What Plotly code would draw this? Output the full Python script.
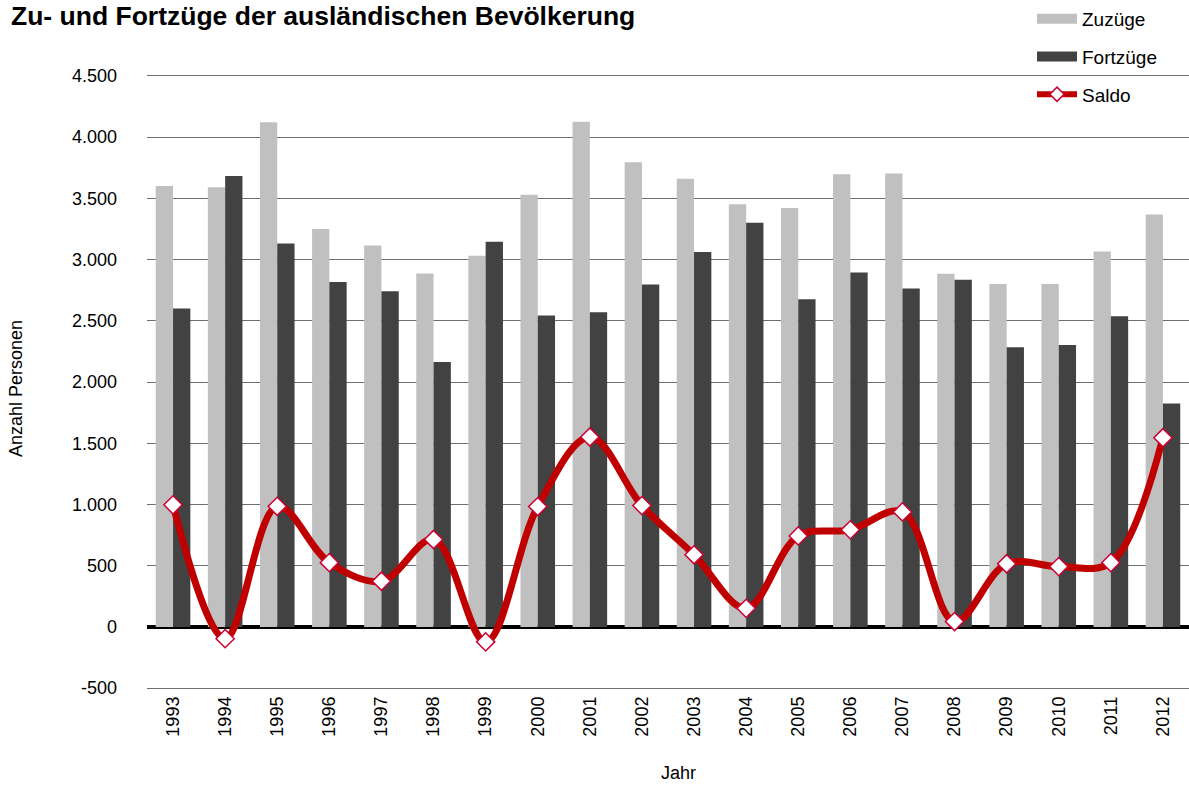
import plotly.graph_objects as go

years = [str(y) for y in range(1993, 2013)]
zuzuege = [3600, 3590, 4120, 3250, 3115, 2885, 3030, 3530, 4125, 3795, 3660, 3452, 3420, 3697, 3703, 2883, 2800, 2800, 3065, 3368]
fortzuege = [2600, 3682, 3131, 2816, 2741, 2163, 3146, 2542, 2570, 2796, 3061, 3300, 2676, 2895, 2764, 2834, 2283, 2303, 2536, 1825]
saldo = [997, -96, 985, 525, 373, 714, -122, 983, 1551, 991, 589, 152, 743, 793, 939, 44, 516, 493, 525, 1545]
yticks = [-500, 0, 500, 1000, 1500, 2000, 2500, 3000, 3500, 4000, 4500]
yticklabels = ["-500", "0", "500", "1.000", "1.500", "2.000", "2.500", "3.000", "3.500", "4.000", "4.500"]

FONT = "Liberation Sans, Arial, sans-serif"
C_ZU = "#C0C0C0"
C_FO = "#424242"
C_SA = "#C00000"

W, H = 1189, 785
L, R, T, B = 147, 0, 74, 95
PW, PH = W - L - R, H - T - B

fig = go.Figure()
fig.add_bar(x=years, y=zuzuege, name="Zuzüge", marker=dict(color=C_ZU, line_width=0), showlegend=False)
fig.add_bar(x=years, y=fortzuege, name="Fortzüge", marker=dict(color=C_FO, line_width=0), showlegend=False)
fig.add_scatter(x=years, y=saldo, name="Saldo", mode="lines+markers",
                line=dict(color=C_SA, width=7, shape="spline", smoothing=1.0),
                marker=dict(symbol="diamond", size=14, color="white", line=dict(color="#CC0033", width=1.5)),
                showlegend=False)
# legend entries
fig.add_scatter(x=[None], y=[None], name="Zuzüge", mode="lines", line=dict(color=C_ZU, width=12), legendgroup="a")
fig.add_scatter(x=[None], y=[None], name="Fortzüge", mode="lines", line=dict(color=C_FO, width=12), legendgroup="b")
fig.add_scatter(x=[None], y=[None], name="Saldo", mode="lines+markers",
                line=dict(color=C_SA, width=6),
                marker=dict(symbol="diamond", size=11, color="white", line=dict(color="#CC0033", width=1.5)),
                legendgroup="c")

fig.update_layout(
    width=W, height=H,
    paper_bgcolor="white", plot_bgcolor="white",
    font=dict(family=FONT, size=18, color="black"),
    barmode="group", bargap=0.336, bargroupgap=0,
    margin=dict(l=L, r=R, t=T, b=B, autoexpand=False),
    title=dict(text="<b>Zu- und Fortzüge der ausländischen Bevölkerung</b>",
               x=11/W, xanchor="left", xref="container",
               y=1 - 6/H, yanchor="top", yref="container",
               font=dict(size=26.5, family=FONT, color="black")),
    legend=dict(xref="container", yref="container", x=1032/W, y=1 + 2.5/H,
                xanchor="left", yanchor="top", bgcolor="rgba(0,0,0,0)",
                font=dict(size=19, family=FONT), tracegroupgap=10, itemwidth=40),
    xaxis=dict(type="category", range=[-0.5, 19.5], tickangle=-90, showgrid=False, ticks="",
               tickfont=dict(size=18), showline=False, ticklabelstandoff=2),
    yaxis=dict(range=[-515, 4515], tickvals=yticks, ticktext=yticklabels,
               showgrid=True, gridcolor="#6E6E6E", gridwidth=1,
               zeroline=True, zerolinecolor="black", zerolinewidth=4,
               ticks="", ticklabelstandoff=29, tickfont=dict(size=18),
               showline=False),
    annotations=[
        dict(text="Anzahl Personen", xref="paper", yref="paper",
             x=(16 - L) / PW, y=(H - B - 389) / PH, textangle=-90, showarrow=False,
             font=dict(size=18, family=FONT), xanchor="center", yanchor="middle"),
        dict(text="Jahr", xref="paper", yref="paper",
             x=(678 - L) / PW, y=(H - B - 773) / PH, showarrow=False,
             font=dict(size=18, family=FONT), xanchor="center", yanchor="middle"),
    ],
)

fig.write_html("out.html", config={"displayModeBar": False},
               post_script="document.body.style.margin='0px';")
